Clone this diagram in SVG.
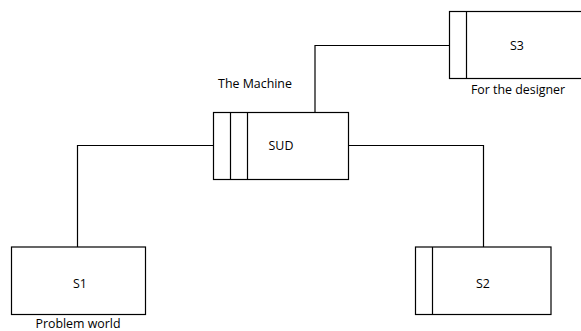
<svg xmlns="http://www.w3.org/2000/svg" width="581" height="331" viewBox="0 0 581 331">
<style>
.box{fill:#fff;stroke:#000;stroke-width:1.2}
.ln{fill:none;stroke:#000;stroke-width:1.2}
text{font-family:"Open Sans","Liberation Sans",sans-serif;font-size:12.4px;fill:#000;text-anchor:middle}
</style>
<rect width="581" height="331" fill="#fff"/>
<g id="connectors">
<polyline class="ln" points="315,112.5 315,45.5 449.5,45.5"/>
<polyline class="ln" points="213.5,145.5 77.5,145.5 77.5,247"/>
<polyline class="ln" points="348.5,145.5 483.5,145.5 483.5,247"/>
</g>
<g id="SUD">
<rect class="box" x="213.5" y="112.5" width="135" height="67"/>
<line class="ln" x1="230.5" y1="112.5" x2="230.5" y2="179.5"/>
<line class="ln" x1="247.5" y1="112.5" x2="247.5" y2="179.5"/>
<text x="281" y="150">SUD</text>
<text x="255" y="88">The Machine</text>
</g>
<g id="S3">
<rect class="box" x="449.5" y="11.5" width="140" height="67"/>
<line class="ln" x1="466.5" y1="11.5" x2="466.5" y2="78.5"/>
<text x="517" y="50">S3</text>
<text x="518" y="94">For the designer</text>
</g>
<g id="S1">
<rect class="box" x="11.5" y="247" width="134" height="67.5"/>
<text x="80" y="288">S1</text>
<text x="78" y="328">Problem world</text>
</g>
<g id="S2">
<rect class="box" x="415.5" y="247" width="135.5" height="67.5"/>
<line class="ln" x1="432.5" y1="247" x2="432.5" y2="314.5"/>
<text x="483" y="288">S2</text>
</g>
</svg>
